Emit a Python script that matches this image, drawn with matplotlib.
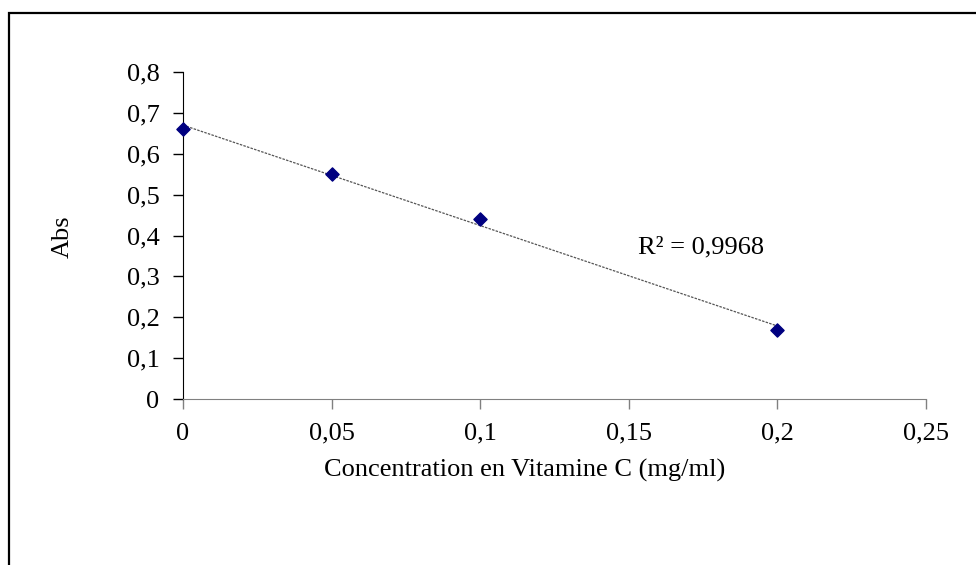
import numpy as np
import matplotlib.pyplot as plt
from matplotlib.patches import Rectangle
from matplotlib.ticker import FuncFormatter

# Données
concentration = [0, 0.05, 0.1, 0.2]
absorbance = [0.66, 0.55, 0.44, 0.17]
r2_texte = "R\u00b2 = 0,9968"
x_ticks = [0, 0.05, 0.1, 0.15, 0.2, 0.25]
y_ticks = [0, 0.1, 0.2, 0.3, 0.4, 0.5, 0.6, 0.7, 0.8]

plt.rcParams['font.family'] = ['Liberation Serif', 'DejaVu Serif']

fig = plt.figure(figsize=(9.76, 5.65), dpi=100)
ax = fig.add_axes([183/976, 1 - 399/565, (926 - 183)/976, (399 - 72)/565])

# cadre autour de la figure (coupé à droite et en bas)
fig.patches.append(Rectangle((9/976, -0.05), 1.2, 1 - 13/565 + 0.05,
                             transform=fig.transFigure, fill=False,
                             edgecolor='black', linewidth=1.6))

# droite de tendance
pente, origine = np.polyfit(concentration, absorbance, 1)
xt = np.array([min(concentration), max(concentration)])
ax.plot(xt, pente * xt + origine, color='#555555', linestyle=(0, (2, 1)),
        linewidth=0.9, zorder=2)

ax.scatter(concentration, absorbance, marker='D', s=45, color='#000080',
           zorder=3, clip_on=False)

ax.set_xlim(0, 0.25)
ax.set_ylim(0, 0.8)
ax.set_xticks(x_ticks)
ax.set_yticks(y_ticks)
virgule = FuncFormatter(lambda v, p: ('%g' % round(v, 3)).replace('.', ','))
ax.xaxis.set_major_formatter(virgule)
ax.yaxis.set_major_formatter(virgule)

for s in ['top', 'right']:
    ax.spines[s].set_visible(False)
ax.spines['bottom'].set_color('#808080')
ax.spines['left'].set_color('black')
ax.tick_params(axis='x', direction='out', length=7, width=1, color='#808080',
               labelsize=19, pad=10)
ax.tick_params(axis='y', direction='out', length=7, width=1, color='black',
               labelsize=19, pad=10)

ax.text(0.153, 0.37, r2_texte, fontsize=19, ha='left', va='center')
fig.text(525/976, 1 - 470/565, 'Concentration en Vitamine C (mg/ml)',
         fontsize=19, ha='center', va='center')
fig.text(63/976, 1 - 237/565, 'Abs', fontsize=19, rotation=90,
         ha='center', va='center')

fig.savefig('out.png', dpi=100)
